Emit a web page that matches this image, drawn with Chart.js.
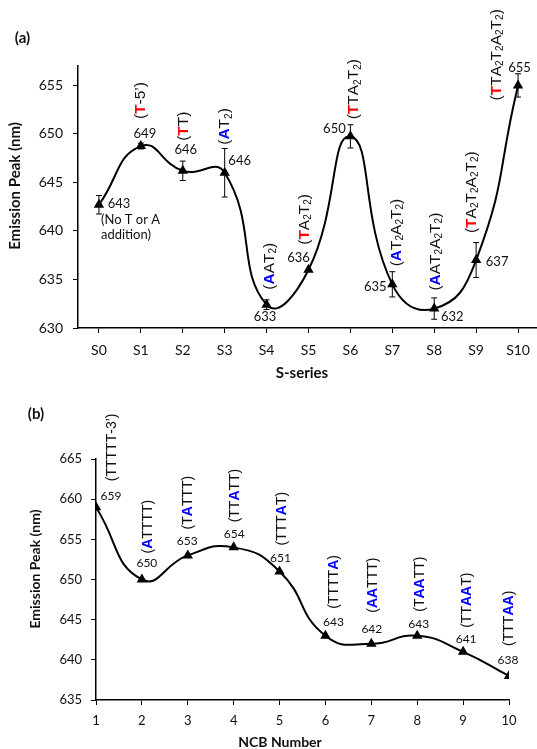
<!DOCTYPE html>
<html><head><meta charset="utf-8">
<script src="https://cdn.jsdelivr.net/npm/chart.js@4"></script>
<style>
html,body{margin:0;padding:0;overflow:hidden;background:#fff;width:537px;height:749px;position:relative;}
canvas{position:absolute;left:0;}
#ca{top:0;}
#cb{top:384px;}
</style></head><body>
<canvas id="ca" width="545" height="384"></canvas>
<canvas id="cb" width="537" height="370"></canvas>
<script>
// ---------- Panel (a) data ----------
const sSeries = ['S0','S1','S2','S3','S4','S5','S6','S7','S8','S9','S10'];
const sPeak = [642.7, 648.75, 646.2, 646.0, 632.4, 636.0, 649.75, 634.5, 632.0, 637.0, 655.0];
const sPeakLabels = ['643','649','646','646','633','636','650','635','632','637','655'];
const sError = [0.95, 0.3, 1.0, 2.5, 0.5, 0, 1.2, 1.3, 1.1, 1.8, 1.2];
const sSeq = ['', "([T]-5\u2019)", '([T]T)', '({A}T_2)', '({A}AT_2)', '([T]A_2T_2)', '([T]TA_2T_2)',
  '({A}T_2A_2T_2)', '({A}AT_2A_2T_2)', '([T]A_2T_2A_2T_2)', '([T]TA_2T_2A_2T_2)'];
const sNote = ['(No T or A', 'addition)'];
const sTicks = [630, 635, 640, 645, 650, 655];

// ---------- Panel (b) data ----------
const ncbNumber = [1,2,3,4,5,6,7,8,9,10];
const ncbPeak = [659, 650, 653, 654, 651, 643, 642, 643, 641, 638];
const ncbSeq = ["(TTTTT-3\u2019)", '({A}TTTT)', '(T{A}TTT)', '(TT{A}TT)', '(TTT{A}T)', '(TTTT{A})',
  '({AA}TTT)', '(T{AA}TT)', '(TT{AA}T)', '(TTT{AA})'];
const ncbTicks = [635, 640, 645, 650, 655, 660, 665];

// ---------- label placement (style, pixels) ----------
const aValOff = [[20,-1],[4,-12],[3,-21],[15,-12],[-1.5,12],[-10,-12],[-16,-8],[-17,2],[18,8],[21,2],[1.5,-18]];
const aSeqOff = [[0,0],[-1,-27],[0,-30],[-1,-28],[2,-15],[-5,-25],[2.5,-17],[3,-18],[0,-18],[-6,-27],[-23,15]];
const bDx = [15,5,-0.5,0.5,1,8,0.5,1.5,3,-1];
const bValDy = [-11,-16,-14,-13,-13,-14,-15,-12,-13,-16];
const bSeqDy = [-26,-26,-26,-25,-26,-27,-31,-24,-24,-30];

const TXT = '#111';
const SEQFONT = '"Liberation Sans", Arial, sans-serif';

function parseSeq(s){
  const out=[]; let i=0;
  while(i<s.length){
    const c=s[i];
    if(c==='['){const j=s.indexOf(']',i); for(const ch of s.slice(i+1,j)) out.push({t:ch,color:'#ff0000',bold:true}); i=j+1;}
    else if(c==='{'){const j=s.indexOf('}',i); for(const ch of s.slice(i+1,j)) out.push({t:ch,color:'#0000ff',bold:true}); i=j+1;}
    else if(c==='_'){out.push({t:s[i+1],sub:true}); i+=2;}
    else {out.push({t:c}); i++;}
  }
  return out;
}
function drawSeq(ctx, str, x, yBottom, size){
  const segs=parseSeq(str);
  ctx.save(); ctx.translate(x, yBottom); ctx.rotate(-Math.PI/2);
  ctx.textAlign='left'; ctx.textBaseline='alphabetic';
  let cx=0;
  for(const s of segs){
    const fs = s.sub ? size*0.65 : size;
    ctx.font = (s.bold?'bold ':'') + fs + 'px ' + SEQFONT;
    ctx.fillStyle = s.color || TXT;
    const by = size*0.36 + (s.sub ? size*0.15 : 0);
    ctx.fillText(s.t, cx, by);
    cx += ctx.measureText(s.t).width;
  }
  ctx.restore();
}
function drawText(ctx, t, x, y, font, align, rot){
  ctx.save(); ctx.translate(x,y); if(rot) ctx.rotate(rot);
  ctx.font=font; ctx.fillStyle=TXT; ctx.textAlign=align||'center'; ctx.textBaseline='middle';
  ctx.fillText(t,0,0); ctx.restore();
}

const annA = {
  id:'annA',
  afterDatasetsDraw(chart){
    const ctx=chart.ctx, xs=chart.scales.x, ys=chart.scales.y;
    ctx.save(); ctx.strokeStyle='#000'; ctx.lineWidth=1;
    sPeak.forEach((v,i)=>{
      const e=sError[i]; if(!e) return;
      const px=xs.getPixelForValue(i), t=ys.getPixelForValue(v+e), b=ys.getPixelForValue(v-e);
      ctx.beginPath(); ctx.moveTo(px,t); ctx.lineTo(px,b);
      ctx.moveTo(px-3,t); ctx.lineTo(px+3,t); ctx.moveTo(px-3,b); ctx.lineTo(px+3,b); ctx.stroke();
    });
    ctx.restore();
    sPeak.forEach((v,i)=>{
      const px=xs.getPixelForValue(i), py=ys.getPixelForValue(v);
      drawText(ctx, sPeakLabels[i], px+aValOff[i][0], py+aValOff[i][1], '13px Lato');
      if(sSeq[i]) drawSeq(ctx, sSeq[i], px+aSeqOff[i][0], py+aSeqOff[i][1], 15.5);
    });
    const p0x=xs.getPixelForValue(0), p0y=ys.getPixelForValue(sPeak[0]);
    sNote.forEach((t,k)=>drawText(ctx, t, p0x+2, p0y+15+k*15, '13px Lato', 'left'));
    drawText(ctx, '(a)', 22.5, 38.5, 'bold 15px Lato');
    drawText(ctx, 'Emission Peak (nm)', 15, 186, 'bold 15px Lato', 'center', -Math.PI/2);
    drawText(ctx, 'S-series', 302, 373, 'bold 15px Lato');
  }
};

const annB = {
  id:'annB',
  afterDatasetsDraw(chart){
    const ctx=chart.ctx, xs=chart.scales.x, ys=chart.scales.y;
    ncbPeak.forEach((v,i)=>{
      const px=xs.getPixelForValue(ncbNumber[i]), py=ys.getPixelForValue(v);
      drawText(ctx, String(v), px+bDx[i], py+bValDy[i], '12px Lato');
      drawSeq(ctx, ncbSeq[i], px+bDx[i], py+bSeqDy[i], 14);
    });
    drawText(ctx, '(b)', 36, 30.5, 'bold 15px Lato');
    drawText(ctx, 'Emission Peak (nm)', 35, 185, 'bold 14px Lato', 'center', -Math.PI/2);
    drawText(ctx, 'NCB Number', 280, 358, 'bold 14px Lato');
  }
};

function axisCommon(){
  return {
    grid:{display:true, drawOnChartArea:false, drawTicks:true, tickLength:5, tickColor:'#000', tickWidth:1},
    border:{display:true, color:'#000', width:1.5}
  };
}

new Chart(document.getElementById('ca'), {
  type:'line',
  data:{datasets:[{
    data: sPeak.map((v,i)=>({x:i, y:v})),
    borderColor:'#000', borderWidth:2, tension:0.5, fill:false,
    pointStyle:'triangle', pointRadius:4, pointBackgroundColor:'#000', pointBorderColor:'#000'
  }]},
  options:{
    responsive:false, animation:false, events:[],
    layout:{padding:{left:0, top:66, right:3, bottom:0}},
    plugins:{legend:{display:false}, tooltip:{enabled:false}},
    scales:{
      x:Object.assign(axisCommon(), {
        type:'linear', min:-0.5, max:10.5,
        afterBuildTicks(s){ s.ticks = sSeries.map((_,i)=>({value:i})); },
        afterFit(s){ s.height = 56; },
        ticks:{callback:(v)=>sSeries[v], font:{family:'Lato', size:14}, color:TXT, padding:9, maxRotation:0, autoSkip:false}
      }),
      y:Object.assign(axisCommon(), {
        min:630, max:657,
        afterBuildTicks(s){ s.ticks = sTicks.map(v=>({value:v})); },
        afterFit(s){ s.width = 78; },
        ticks:{font:{family:'Lato', size:14}, color:TXT, padding:10}
      })
    }
  },
  plugins:[annA]
});

new Chart(document.getElementById('cb'), {
  type:'line',
  data:{datasets:[{
    data: ncbPeak.map((v,i)=>({x:ncbNumber[i], y:v})),
    borderColor:'#000', borderWidth:2, tension:0.5, fill:false,
    pointStyle:'triangle', pointRadius:4, pointBackgroundColor:'#000', pointBorderColor:'#000'
  }]},
  options:{
    responsive:false, animation:false, events:[],
    layout:{padding:{left:0, top:75, right:28, bottom:0}},
    plugins:{legend:{display:false}, tooltip:{enabled:false}},
    scales:{
      x:Object.assign(axisCommon(), {
        type:'linear', min:1, max:10,
        afterBuildTicks(s){ s.ticks = ncbNumber.map(v=>({value:v})); },
        afterFit(s){ s.height = 54; },
        ticks:{font:{family:'Lato', size:13}, color:TXT, padding:8, maxRotation:0, autoSkip:false}
      }),
      y:Object.assign(axisCommon(), {
        min:635, max:665,
        afterBuildTicks(s){ s.ticks = ncbTicks.map(v=>({value:v})); },
        afterFit(s){ s.width = 96; },
        ticks:{font:{family:'Lato', size:13}, color:TXT, padding:9}
      })
    }
  },
  plugins:[annB]
});
</script>
</body></html>
